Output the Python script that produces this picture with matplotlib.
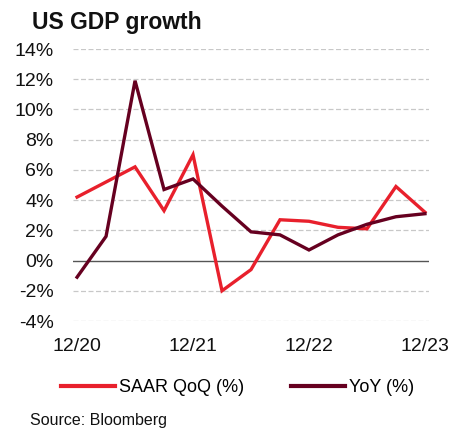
import matplotlib.pyplot as plt
import numpy as np

plt.rcParams['font.family'] = ['Liberation Sans', 'DejaVu Sans']

# quarterly, 12/20 .. 12/23
quarters = ['12/20', '3/21', '6/21', '9/21', '12/21', '3/22', '6/22', '9/22',
            '12/22', '3/23', '6/23', '9/23', '12/23']
saar_qoq = [4.2, 5.2, 6.2, 3.3, 7.0, -2.0, -0.6, 2.7, 2.6, 2.2, 2.1, 4.9, 3.2]
yoy = [-1.1, 1.6, 11.9, 4.7, 5.4, 3.6, 1.9, 1.7, 0.7, 1.7, 2.4, 2.9, 3.1]
yticks = [-4, -2, 0, 2, 4, 6, 8, 10, 12, 14]
xtick_labels = ['12/20', '12/21', '12/22', '12/23']

red = '#E8202C'
dark = '#660020'

fig = plt.figure(figsize=(4.52, 4.30), dpi=100)
ax = fig.add_axes([73/452, 1 - 321/430, 356/452, 272/430])

x = np.arange(len(quarters))
ax.plot(x, saar_qoq, color=red, lw=2.4, label='SAAR QoQ (%)', solid_joinstyle='miter')
ax.plot(x, yoy, color=dark, lw=2.4, label='YoY (%)', solid_joinstyle='miter')

ax.set_ylim(-4, 14)
ax.set_xlim(-0.14, 12.14)
ax.set_yticks(yticks)
ax.set_yticklabels([f'{v}%' for v in yticks])
ax.set_xticks([0, 4, 8, 12])
ax.set_xticklabels(xtick_labels)

for v in yticks:
    if v == 0:
        ax.axhline(0, color='#555555', lw=1.0, zorder=1)
    else:
        ax.axhline(v, color='#c8c8c8', lw=0.9, ls=(0, (4, 2)), zorder=0)

for s in ax.spines.values():
    s.set_visible(False)
ax.tick_params(length=0, labelsize=14, colors='#111111')
ax.tick_params(axis='y', pad=14)
ax.tick_params(axis='x', pad=12)

fig.text(32/452, 1 - 22/430, 'US GDP growth', fontsize=16.5, fontweight='bold',
         va='center', ha='left', color='#111111')

leg = fig.legend(loc='center', bbox_to_anchor=(0.525, 1 - 388/430), ncol=2,
                 frameon=False, fontsize=13, handlelength=3.0, handletextpad=0.2,
                 columnspacing=2.6)
for h in leg.get_lines():
    h.set_linewidth(3)

fig.text(30/452, 1 - 421/430, 'Source: Bloomberg', fontsize=11.5, va='center',
         ha='left', color='#111111')

fig.savefig('out.png', dpi=100)
